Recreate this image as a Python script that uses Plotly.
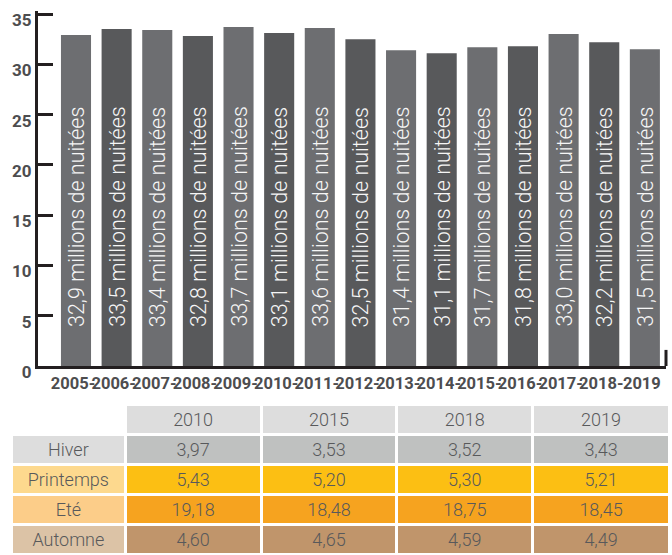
import plotly.graph_objects as go

years = ["2005", "2006", "2007", "2008", "2009", "2010", "2011", "2012",
         "2013", "2014", "2015", "2016", "2017", "2018", "2019"]
nights = [32.9, 33.5, 33.4, 32.8, 33.7, 33.1, 33.6, 32.5,
          31.4, 31.1, 31.7, 31.8, 33.0, 32.2, 31.5]
tick_labels = [y + "-" for y in years[:-1]] + [years[-1]]
bar_labels = [("%.1f" % v).replace(".", ",") + " millions de nuitées" for v in nights]

table_years = ["2010", "2015", "2018", "2019"]
seasons = ["Hiver", "Printemps", "Eté", "Automne"]
season_values = {
    "2010": [3.97, 5.43, 19.18, 4.60],
    "2015": [3.53, 5.20, 18.48, 4.65],
    "2018": [3.52, 5.30, 18.75, 4.59],
    "2019": [3.43, 5.21, 18.45, 4.49],
}

W, H = 672, 555
BAR_LIGHT, BAR_DARK = "#6d6e71", "#58595b"
AXIS = "#231f20"
TXT = "#58595b"
LABEL = "#4d4d4f"

bar_colors = [BAR_LIGHT if i % 2 == 0 else BAR_DARK for i in range(len(years))]

PPU = (366 - 14) / 35.0  # pixels per unit
YTOP = 35.3

fig = go.Figure()
fig.add_trace(go.Bar(
    x=years, y=nights, marker=dict(color=bar_colors, line=dict(width=0)),
    hoverinfo="skip",
))

# value labels written vertically inside each bar, starting ~38px above the base
LABEL_BASE = 1.0
for i, lab in enumerate(bar_labels):
    fig.add_annotation(
        x=i, y=LABEL_BASE, xref="x", yref="y", text=lab, textangle=-90,
        showarrow=False, xanchor="center", yanchor="bottom",
        yshift=38 - PPU * LABEL_BASE,
        font=dict(family="Roboto", size=21.5, color="#f6f6f6", weight=300),
        borderpad=0,
    )

label_fill = ["#dddddd", "#fdd98e", "#fccd89", "#dcc3a6"]
value_fill = ["#bfc1c0", "#fcbf13", "#f6a31f", "#c0956b"]

def fmt(v):
    return ("%.2f" % v).replace(".", ",")

fig.add_trace(go.Table(
    domain=dict(x=[11.5 / W, 670 / W], y=[0, (H - 404) / H]),
    columnwidth=[113, 135, 135, 135, 136],
    header=dict(
        values=[""] + table_years,
        fill=dict(color=["white"] + ["#dddddd"] * 4),
        line=dict(color="white", width=3),
        font=dict(family="Roboto", size=18, color=TXT, weight=300),
        align="center", height=30,
    ),
    cells=dict(
        values=[seasons] + [[fmt(v) for v in season_values[y]] for y in table_years],
        fill=dict(color=[label_fill] + [value_fill] * 4),
        line=dict(color="white", width=3),
        font=dict(family="Roboto", size=18, color=TXT, weight=300),
        align="center", height=30,
    ),
))

fig.add_shape(type="line", xref="x domain", yref="y", x0=1, x1=1, y0=0, y1=1.6,
              line=dict(color=AXIS, width=3))

fig.update_layout(
    width=W, height=H, margin=dict(l=0, r=0, t=0, b=0),
    paper_bgcolor="white", plot_bgcolor="white", showlegend=False,
    bargap=0.26,
    xaxis=dict(domain=[38 / W, 666 / W], type="category", range=[-0.935, 14.52],
               tickmode="array", tickvals=years, ticktext=tick_labels,
               tickangle=0, ticks="", showline=True, linewidth=3, linecolor=AXIS,
               showgrid=False, zeroline=False, automargin=False, ticklabelshift=-3,
               tickfont=dict(family="Roboto", size=16.5, color=LABEL, weight="bold")),
    yaxis=dict(domain=[(H - 366) / H, (H - 366 + PPU * YTOP) / H], range=[0, YTOP],
               tickmode="array", tickvals=[0, 5, 10, 15, 20, 25, 30, 35],
               ticks="inside", ticklen=15, tickwidth=3, tickcolor=AXIS,
               showline=True, linewidth=3, linecolor=AXIS, showgrid=False,
               zeroline=False, automargin=False, ticklabelshift=6,
               tickfont=dict(family="Roboto", size=17, color=LABEL, weight="bold")),
)

fig.write_html("out.html", post_script="document.body.style.margin='0';",
               config={"displayModeBar": False})
